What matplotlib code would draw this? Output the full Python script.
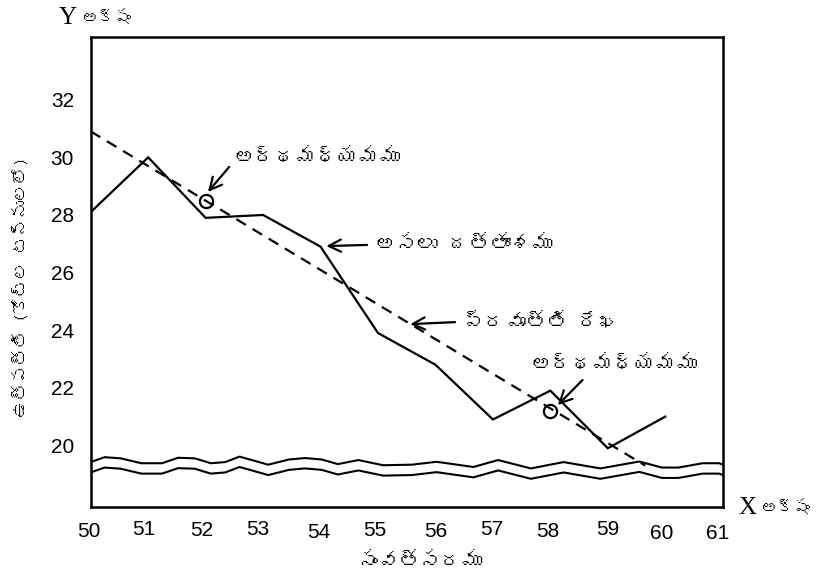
import matplotlib
matplotlib.use("Agg")
import matplotlib.pyplot as plt
import matplotlib.transforms as mtransforms
from matplotlib import font_manager
from matplotlib.ft2font import FT2Font

# actual data (production, crore tonnes) by year
years = [50, 51, 52, 53, 54, 55, 56, 57, 58, 59, 60]
output = [28.1, 30.0, 27.9, 28.0, 26.9, 23.9, 22.8, 20.9, 21.9, 19.9, 21.0]

# semi-averages and the trend line through them
semi_x = [52, 58]
semi_y = [28.5, 21.2]
trend_x = [50, 59.65]
trend_y = [30.9, 19.3]

xticks = [50, 51, 52, 53, 54, 55, 56, 57, 58, 59, 60, 61]
yticks = [20, 22, 24, 26, 28, 30, 32]

# hand drawn axis-break line (upper edge); lower edge sits a bit below
break_x = [50.0, 50.24, 50.52, 50.88, 51.24, 51.52, 51.81, 52.09, 52.34, 52.59,
           53.09, 53.45, 53.73, 54.02, 54.30, 54.66, 55.09, 55.59, 56.02, 56.66,
           57.09, 57.66, 58.23, 58.87, 59.55, 59.94, 60.23, 60.65, 60.94, 61.0]
break_top = [19.42, 19.59, 19.55, 19.38, 19.38, 19.57, 19.55, 19.38, 19.42, 19.61,
             19.33, 19.51, 19.56, 19.51, 19.35, 19.49, 19.31, 19.33, 19.43, 19.25,
             19.49, 19.20, 19.42, 19.20, 19.44, 19.23, 19.23, 19.38, 19.38, 19.33]
break_gap = 0.36


def find_telugu_font():
    for f in font_manager.fontManager.ttflist:
        try:
            if 0x0C05 in FT2Font(f.fname).get_charmap():
                return f.name
        except Exception:
            pass
    return "DejaVu Sans"


tel = find_telugu_font()
tel_fam = [tel, "DejaVu Sans"]
num_fam = ["Liberation Sans Narrow", "Liberation Sans", "DejaVu Sans"]

fig = plt.figure(figsize=(8.16, 5.85), dpi=100)
ax = fig.add_axes([0.1112, 0.1333, 0.7745, 0.8035])
ax.set_xlim(50, 61)
ax.set_ylim(17.86, 34.18)

ax.plot(years, output, color="black", lw=1.6, solid_joinstyle="miter")
ax.plot(trend_x, trend_y, color="black", lw=1.6, dashes=(5, 3.5))
ax.plot(semi_x, semi_y, "o", ms=9.5, mfc="none", mec="black", mew=1.6)

lower = [v - break_gap for v in break_top]
ax.plot(break_x, break_top, color="black", lw=1.5)
ax.plot(break_x, lower, color="black", lw=1.5)

for s in ax.spines.values():
    s.set_linewidth(1.8)

ax.set_xticks(xticks)
ax.set_xticklabels([str(v) for v in xticks], family=num_fam, fontsize=15)
ax.set_yticks(yticks)
ax.set_yticklabels([str(v) for v in yticks], family=num_fam, fontsize=15)
ax.tick_params(length=0, pad=10)
ax.tick_params(axis="y", pad=12)

# the printed tick labels are a little uneven
nudge = [(-2, -1), (-4, 1), (-4, 0), (-5, 1), (-2, -2), (-3, 0),
         (0, -1), (-1, 1), (-3, -1), (0, 1), (-4, -3), (-5, -3)]
for lab, (dx, dy) in zip(ax.get_xticklabels(), nudge):
    off = mtransforms.ScaledTranslation(dx / 100, dy / 100, fig.dpi_scale_trans)
    lab.set_transform(lab.get_transform() + off)

arrow = dict(arrowstyle="->", lw=1.6, color="black", mutation_scale=22,
             shrinkA=0, shrinkB=0)
notes = [
    ("అర్థమధ్యమము", (52.48, 29.98), (52.41, 29.67), (52.04, 28.80)),
    ("అసలు దత్తాంశము", (54.95, 26.96), (54.81, 26.96), (54.10, 26.92)),
    ("ప్రవృత్తి రేఖ", (56.48, 24.28), (56.34, 24.28), (55.56, 24.21)),
    ("అర్థమధ్యమము", (57.65, 22.79), (58.56, 22.27), (58.13, 21.40)),
]
for txt, tpos, tail, head in notes:
    ax.annotate("", xy=head, xytext=tail, arrowprops=arrow)
    ax.text(tpos[0], tpos[1], txt, family=tel_fam, fontsize=15,
            ha="left", va="center")

fig.text(420 / 816, 1 - 562 / 585, "సంవత్సరము", family=tel_fam, fontsize=15,
         ha="center", va="center")
fig.text(22 / 816, 1 - 287 / 585, "ఉత్పత్తి (కోట్ల టన్నులలో)", family=tel_fam,
         fontsize=12.5, rotation=90, ha="center", va="center")

# axis names: big serif letter followed by the Telugu word
fig.text(738 / 816, 1 - 508 / 585, "X", family="Liberation Serif",
         fontsize=18, ha="left", va="center")
fig.text(761 / 816, 1 - 508 / 585, "అక్షం", family=tel_fam, fontsize=12,
         ha="left", va="center")
fig.text(59 / 816, 1 - 18 / 585, "Y", family="Liberation Serif",
         fontsize=18, ha="left", va="center")
fig.text(82 / 816, 1 - 18 / 585, "అక్షం", family=tel_fam, fontsize=12,
         ha="left", va="center")

fig.savefig("out.png", dpi=100)
